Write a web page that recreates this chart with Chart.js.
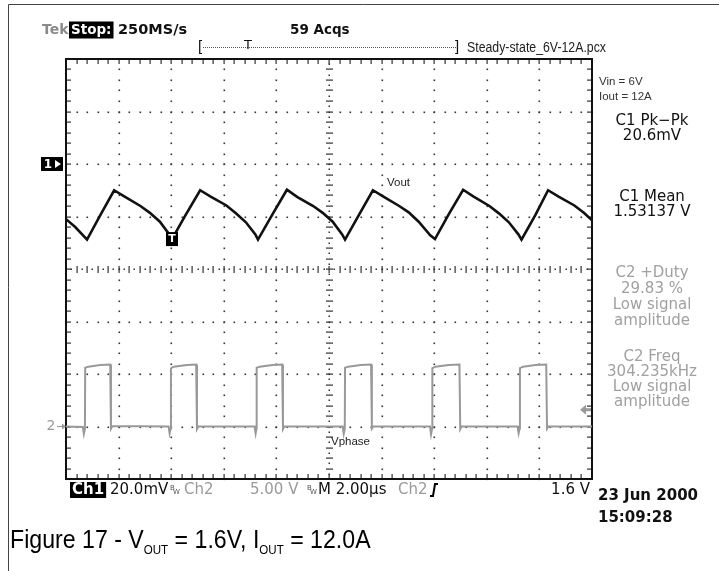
<!DOCTYPE html>
<html>
<head>
<meta charset="utf-8">
<script src="https://cdn.jsdelivr.net/npm/chart.js@4.4.1/dist/chart.umd.min.js"></script>
<style>
  html, body { margin:0; padding:0; background:#fff; }
  #wrap { width:719px; height:571px; position:relative; }
  canvas { display:block; }
</style>
</head>
<body>
<div id="wrap"><canvas id="scope" width="719" height="571"></canvas></div>
<script>
// time in µs (M 2.00µs/div, 10 div), level in screen divisions (8 div)
const voutTimes  = [0.00,0.35,0.80, 1.30,1.83, 2.23,2.83,3.19,3.57,3.93,4.03, 4.55,5.10, 5.50,6.10,6.46,6.84,7.20,7.30,
                    7.85,8.40, 8.80,9.40,9.76,10.14,10.50,10.61, 11.15,11.67, 12.07,12.67,13.03,13.41,13.85,14.03,
                    14.55,15.10, 15.50,16.10,16.46,16.84,17.20,17.32, 17.85,18.33, 18.73,19.33,19.69,20.00];
const voutLevels = [0.95,0.80,0.56, 1.02,1.50, 1.38,1.20,1.07,0.90,0.66,0.57, 1.03,1.50, 1.38,1.21,1.06,0.89,0.66,0.56,
                    1.04,1.51, 1.37,1.20,1.07,0.90,0.66,0.56, 1.04,1.50, 1.38,1.20,1.08,0.90,0.64,0.57,
                    1.04,1.51, 1.38,1.20,1.06,0.89,0.66,0.56, 1.03,1.50, 1.38,1.21,1.07,0.93];

const phaseTimes  = [0.00,0.64,0.68,0.72,0.73,0.85,1.30,1.68,1.71,1.76,
                     3.90,3.94,3.98,3.99,4.10,4.60,4.95,4.98,5.03,
                     7.17,7.21,7.24,7.25,7.37,7.85,8.22,8.25,8.30,
                     10.52,10.56,10.60,10.61,10.73,11.20,11.60,11.63,11.68,
                     13.84,13.88,13.92,13.93,14.05,14.55,14.96,14.99,15.04,
                     17.17,17.21,17.25,17.26,17.38,17.85,18.26,18.29,18.34,20.00];
const phaseLevels = [-3.00,-3.01,-3.14,-3.04,-1.88,-1.86,-1.83,-1.82,-3.04,-2.99,
                     -3.00,-3.13,-3.04,-1.89,-1.86,-1.83,-1.82,-3.05,-3.00,
                     -3.00,-3.13,-3.04,-1.88,-1.86,-1.83,-1.82,-3.05,-3.00,
                     -3.00,-3.14,-3.04,-1.88,-1.86,-1.83,-1.82,-3.04,-3.00,
                     -3.00,-3.15,-3.04,-1.89,-1.86,-1.83,-1.82,-3.05,-3.00,
                     -3.00,-3.13,-3.04,-1.89,-1.86,-1.83,-1.82,-3.04,-3.00,-3.00];

const ch1Marker = 2;      // div
const ch2Marker = -3;     // div
const trigLevel = -2.68;  // div (1.6 V on Ch2 at 5 V/div)
const trigPoint = [4.03, 0.57];

const headerTexts = ['250MS/s', '59 Acqs'];
const fileName = 'Steady-state_6V-12A.pcx';
const c1Readouts = ['C1 Pk\u2212Pk', '20.6mV', 'C1 Mean', '1.53137 V'];
const c2Readouts = ['C2 +Duty', '29.83 %', 'Low signal', 'amplitude', 'C2 Freq', '304.235kHz', 'Low signal', 'amplitude'];

const pts = (ts, vs) => ts.map((t, i) => ({ x: t, y: vs[i] }));
const TEK = '"DejaVu Sans", Verdana, sans-serif';
const ARIAL = '"Liberation Sans", Arial, sans-serif';

function txt(ctx, s, x, y, font, color, align, base) {
    ctx.font = font; ctx.fillStyle = color;
    ctx.textAlign = align || 'left'; ctx.textBaseline = base || 'middle';
    ctx.fillText(s, x, y);
    return ctx.measureText(s).width;
}
// narrow text: horizontally squeezed
function ntxt(ctx, s, x, y, font, color, sx, base) {
    ctx.save();
    ctx.translate(x, y); ctx.scale(sx, 1);
    const w = txt(ctx, s, 0, 0, font, color, 'left', base || 'alphabetic');
    ctx.restore();
    return w * sx;
}
function boxTxt(ctx, s, x, y, font, h) {
    ctx.font = font;
    const w = ctx.measureText(s).width;
    ctx.fillStyle = '#000'; ctx.fillRect(x - 2, y - h / 2, w + 4, h);
    txt(ctx, s, x, y + 0.5, font, '#fff');
    return w + 4;
}

const graticule = {
    id: 'graticule',
    beforeDatasetsDraw(chart) {
        const { ctx, chartArea: a } = chart;
        const xs = chart.scales.x, ys = chart.scales.y;
        ctx.save();
        ctx.fillStyle = '#333';
        // dotted major lines
        for (let d = 1; d < 10; d++) {
            if (d === 5) continue;
            const px = Math.round(xs.getPixelForValue(d * 2));
            for (let m = -20; m <= 20; m++) {
                const py = Math.round(ys.getPixelForValue(m * 0.2));
                ctx.fillRect(px - 0.5, py - 0.5, 1.6, 1.6);
            }
        }
        for (let d = -3; d <= 3; d++) {
            if (d === 0) continue;
            const py = Math.round(ys.getPixelForValue(d));
            for (let m = 0; m <= 50; m++) {
                const px = Math.round(xs.getPixelForValue(m * 0.4));
                ctx.fillRect(px - 0.5, py - 0.5, 1.6, 1.6);
            }
        }
        // centre cross with minor ticks
        const cx = Math.round(xs.getPixelForValue(10)), cy = Math.round(ys.getPixelForValue(0));
        for (let m = -40; m <= 40; m++) {
            const py = Math.round(ys.getPixelForValue(m * 0.1));
            if (m % 2 === 0) ctx.fillRect(cx - 3, py - 0.5, 7, 1.2);
            else ctx.fillRect(cx - 0.5, py - 0.5, 1.5, 1.5);
        }
        for (let m = 0; m <= 100; m++) {
            const px = Math.round(xs.getPixelForValue(m * 0.2));
            if (m % 2 === 0) ctx.fillRect(px - 0.5, cy - 3, 1.2, 7);
            else ctx.fillRect(px - 0.5, cy - 0.5, 1.5, 1.5);
        }
        // edge ticks
        for (let m = 1; m < 50; m++) {
            const px = Math.round(xs.getPixelForValue(m * 0.4));
            ctx.fillRect(px - 0.5, a.top, 1.2, 5);
            ctx.fillRect(px - 0.5, a.bottom - 5, 1.2, 5);
        }
        for (let m = -19; m < 20; m++) {
            const py = Math.round(ys.getPixelForValue(m * 0.2));
            ctx.fillRect(a.left, py - 0.5, 5, 1.2);
            ctx.fillRect(a.right - 5, py - 0.5, 5, 1.2);
        }
        ctx.strokeStyle = '#111'; ctx.lineWidth = 2;
        ctx.strokeRect(a.left, a.top, a.right - a.left, a.bottom - a.top);
        ctx.restore();
    },
    afterDraw(chart) {
        const { ctx } = chart;
        const xs = chart.scales.x, ys = chart.scales.y;
        ctx.save();
        // page frame
        ctx.strokeStyle = '#444'; ctx.lineWidth = 1;
        ctx.beginPath(); ctx.moveTo(8.5, 571); ctx.lineTo(8.5, 4.5); ctx.lineTo(719, 4.5); ctx.stroke();

        // header
        txt(ctx, 'Tek', 42, 30, 'bold 14px ' + TEK, '#8a8a8a');
        boxTxt(ctx, 'Stop:', 71, 30, 'bold 13.5px ' + TEK, 17);
        txt(ctx, headerTexts[0], 118, 30, 'bold 14.5px ' + TEK, '#111');
        txt(ctx, headerTexts[1], 290, 30, 'bold 13.5px ' + TEK, '#111');
        ctx.strokeStyle = '#555'; ctx.lineWidth = 1; ctx.setLineDash([1, 1]);
        ctx.beginPath(); ctx.moveTo(203, 47.5); ctx.lineTo(457, 47.5); ctx.stroke();
        ctx.setLineDash([]);
        txt(ctx, '[', 198, 47, '15px ' + ARIAL, '#111');
        txt(ctx, ']', 455, 47, '15px ' + ARIAL, '#111');
        txt(ctx, 'T', 248, 46, '13px ' + TEK, '#111', 'center');
        ntxt(ctx, fileName, 467, 52, '14px ' + ARIAL, '#222', 0.88);

        // right panel
        txt(ctx, 'Vin = 6V', 599, 82, '11.5px ' + ARIAL, '#333');
        txt(ctx, 'Iout = 12A', 599, 97, '11.5px ' + ARIAL, '#333');
        const rf = '15px ' + TEK, rx = 652;
        [121, 136, 197, 212].forEach((y, i) => txt(ctx, c1Readouts[i], rx, y, rf, '#111', 'center'));
        [273, 289, 305, 321, 357, 372, 387, 402].forEach((y, i) => txt(ctx, c2Readouts[i], rx, y, rf, '#a0a0a0', 'center'));

        // channel markers
        const y1 = ys.getPixelForValue(ch1Marker);
        ctx.fillStyle = '#000'; ctx.fillRect(41, y1 - 7, 22, 14);
        txt(ctx, '1', 48, y1 + 0.5, 'bold 12px ' + TEK, '#fff', 'center');
        ctx.fillStyle = '#fff';
        ctx.beginPath(); ctx.moveTo(55, y1 - 4); ctx.lineTo(61, y1); ctx.lineTo(55, y1 + 4); ctx.fill();
        const y2 = ys.getPixelForValue(ch2Marker);
        txt(ctx, '2', 51, y2, '14px ' + TEK, '#9a9a9a', 'center');
        ctx.strokeStyle = '#9a9a9a'; ctx.lineWidth = 1.2;
        ctx.beginPath(); ctx.moveTo(57, y2); ctx.lineTo(65, y2); ctx.stroke();
        ctx.fillStyle = '#9a9a9a';
        ctx.beginPath(); ctx.moveTo(62, y2 - 3); ctx.lineTo(66, y2); ctx.lineTo(62, y2 + 3); ctx.fill();
        // trigger level arrow
        const yt = ys.getPixelForValue(trigLevel);
        ctx.fillStyle = '#9a9a9a';
        ctx.beginPath(); ctx.moveTo(580, yt); ctx.lineTo(586, yt - 5); ctx.lineTo(586, yt + 5); ctx.fill();
        ctx.fillRect(585, yt - 1.5, 6, 3);
        // trigger point marker
        const tx = xs.getPixelForValue(trigPoint[0]), ty = ys.getPixelForValue(trigPoint[1]);
        ctx.fillStyle = '#000'; ctx.fillRect(tx - 6, ty - 7, 12, 14);
        txt(ctx, 'T', tx, ty + 0.5, 'bold 11px ' + TEK, '#fff', 'center');
        // trace labels
        txt(ctx, 'Vout', 387, 183, '11.5px ' + ARIAL, '#222');
        txt(ctx, 'Vphase', 331, 442, '11.5px ' + ARIAL, '#222');

        // status line
        const sy = 490, sf = '15px ' + TEK;
        boxTxt(ctx, 'Ch1', 72, sy, 'bold ' + sf, 16);
        txt(ctx, '20.0mV', 110, sy, sf, '#111');
        txt(ctx, 'B', 170, sy - 2, '7px ' + TEK, '#555');
        txt(ctx, 'W', 173, sy + 2, '7px ' + TEK, '#555');
        txt(ctx, 'Ch2', 184, sy, sf, '#9a9a9a');
        txt(ctx, '5.00 V', 250, sy, sf, '#9a9a9a');
        txt(ctx, 'B', 307, sy - 2, '7px ' + TEK, '#555');
        txt(ctx, 'W', 310, sy + 2, '7px ' + TEK, '#555');
        txt(ctx, 'M 2.00\u00b5s', 318, sy, sf, '#111');
        txt(ctx, 'Ch2', 398, sy, sf, '#9a9a9a');
        ctx.strokeStyle = '#000'; ctx.lineWidth = 2;
        ctx.beginPath(); ctx.moveTo(430, sy + 6); ctx.lineTo(433, sy + 6); ctx.lineTo(435, sy - 6); ctx.lineTo(438, sy - 6); ctx.stroke();
        txt(ctx, '1.6 V', 590, sy, sf, '#111', 'right');
        txt(ctx, '23 Jun 2000', 598, 496, 'bold ' + sf, '#111');
        txt(ctx, '15:09:28', 598, 518, 'bold ' + sf, '#111');

        // caption
        const cf = '26px ' + ARIAL, sub = '13px ' + ARIAL, k = 0.89;
        let x = 10; const by = 548;
        x += ntxt(ctx, 'Figure 17 - V', x, by, cf, '#000', k);
        x += ntxt(ctx, 'OUT', x, by + 6, sub, '#000', k);
        x += ntxt(ctx, ' = 1.6V, I', x, by, cf, '#000', k);
        x += ntxt(ctx, 'OUT', x, by + 6, sub, '#000', k);
        ntxt(ctx, ' = 12.0A', x, by, cf, '#000', k);
        ctx.restore();
    }
};

new Chart(document.getElementById('scope').getContext('2d'), {
    type: 'line',
    data: {
        datasets: [
            { label: 'Vout', data: pts(voutTimes, voutLevels), borderColor: '#111', borderWidth: 2.6,
              pointRadius: 0, tension: 0, fill: false },
            { label: 'Vphase', data: pts(phaseTimes, phaseLevels), borderColor: '#999', borderWidth: 2,
              pointRadius: 0, tension: 0, fill: false }
        ]
    },
    options: {
        responsive: false, devicePixelRatio: 1, animation: false,
        layout: { padding: { left: 66, top: 59, right: 127, bottom: 92 } },
        plugins: { legend: { display: false }, tooltip: { enabled: false } },
        scales: {
            x: { type: 'linear', min: 0, max: 20, display: false },
            y: { type: 'linear', min: -4, max: 4, display: false }
        }
    },
    plugins: [graticule]
});
</script>
</body>
</html>
